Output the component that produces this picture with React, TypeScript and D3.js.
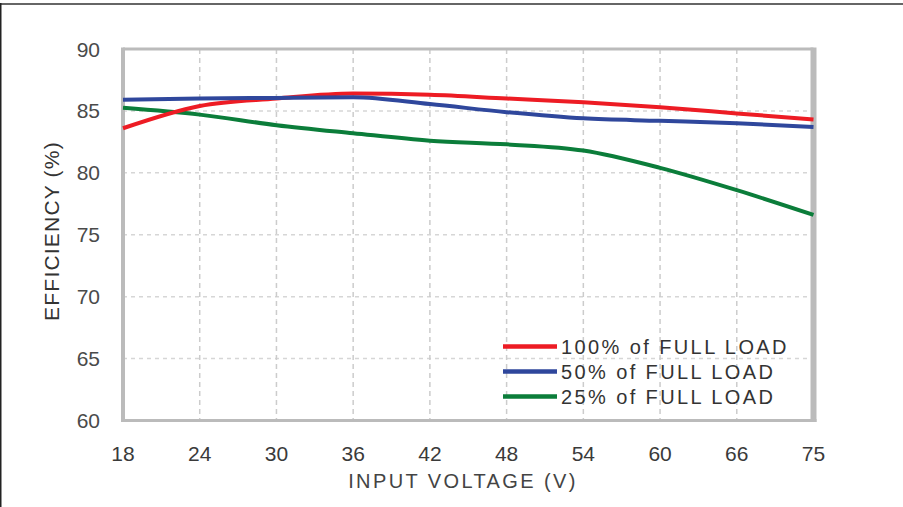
import React from 'react';
import * as d3 from 'd3';

const voltages = ['18', '24', '30', '36', '42', '48', '54', '60', '66', '75'];
const load100 = [83.6, 85.4, 86.0, 86.4, 86.3, 86.0, 85.7, 85.3, 84.8, 84.3];
const load50 = [85.9, 86.0, 86.05, 86.1, 85.55, 84.9, 84.4, 84.2, 84.0, 83.7];
const load25 = [85.25, 84.7, 83.85, 83.2, 82.6, 82.3, 81.8, 80.4, 78.6, 76.6];
const yTicks = [60, 65, 70, 75, 80, 85, 90];
const seriesNames = ['100% of FULL LOAD', '50% of FULL LOAD', '25% of FULL LOAD'];
const seriesColors = ['#ed1c24', '#2f479c', '#0b7d3a'];

const W = 903;
const H = 507;
const left = 123;
const right = 813.5;
const top = 49;
const bottom = 420.5;

const FONT = '"Liberation Sans", Arial, Helvetica, sans-serif';

export default function App() {
  const x = d3.scalePoint<string>().domain(voltages).range([left, right]);
  const y = d3.scaleLinear().domain([60, 90]).range([bottom, top]);
  const line = d3
    .line<number>()
    .x((_, i) => x(voltages[i]) as number)
    .y((d) => y(d))
    .curve(d3.curveMonotoneX);

  const series = [load100, load50, load25];
  const drawOrder = [2, 0, 1];

  return (
    <div style={{ position: 'fixed', left: 0, top: 0 }}>
      <svg width={W} height={H} style={{ display: 'block', background: '#fff' }}>
        {/* outer frame */}
        <line x1={0} x2={W} y1={4} y2={4} stroke="#666" strokeWidth={2} />
        <line x1={0.75} x2={0.75} y1={3} y2={H} stroke="#222" strokeWidth={1.5} />

        {/* horizontal grid */}
        {yTicks.slice(1, -1).map((t) => (
          <line
            key={'h' + t}
            x1={left}
            x2={right}
            y1={y(t)}
            y2={y(t)}
            stroke="#d6d6d6"
            strokeWidth={1.5}
            strokeDasharray="4,4"
          />
        ))}
        {/* vertical grid */}
        {voltages.slice(1, -1).map((v) => (
          <line
            key={'v' + v}
            x1={x(v)}
            x2={x(v)}
            y1={top}
            y2={bottom}
            stroke="#cccccc"
            strokeWidth={1.5}
            strokeDasharray="5,4"
          />
        ))}

        {/* plot border */}
        <line x1={left} x2={right} y1={top} y2={top} stroke="#bbbbbb" strokeWidth={3} />
        <line x1={left} x2={right + 3} y1={bottom} y2={bottom} stroke="#bbbbbb" strokeWidth={3} />
        <line x1={left} x2={left} y1={top - 1.5} y2={bottom + 1.5} stroke="#bbbbbb" strokeWidth={4} />
        <line x1={right} x2={right} y1={top - 1.5} y2={bottom + 1.5} stroke="#bbbbbb" strokeWidth={6} />

        {/* series */}
        {drawOrder.map((si) => (
          <path
            key={'s' + si}
            d={line(series[si]) || ''}
            fill="none"
            stroke={seriesColors[si]}
            strokeWidth={4}
            strokeLinejoin="round"
          />
        ))}

        {/* y tick labels */}
        {yTicks.map((t) => (
          <text
            key={'yl' + t}
            x={100}
            y={y(t)}
            textAnchor="end"
            dominantBaseline="central"
            fontFamily={FONT}
            fontSize={21}
            fill="#4a4a4a"
          >
            {t}
          </text>
        ))}
        {/* x tick labels */}
        {voltages.map((v) => (
          <text
            key={'xl' + v}
            x={x(v)}
            y={461}
            textAnchor="middle"
            fontFamily={FONT}
            fontSize={21}
            fill="#3a3a3a"
          >
            {v}
          </text>
        ))}

        {/* axis titles */}
        <text
          x={463}
          y={488}
          textAnchor="middle"
          fontFamily={FONT}
          fontSize={20}
          letterSpacing={2.4}
          fill="#444"
        >
          INPUT VOLTAGE (V)
        </text>
        <text
          transform="translate(59,231) rotate(-90)"
          textAnchor="middle"
          fontFamily={FONT}
          fontSize={21}
          letterSpacing={1.2}
          fill="#333"
        >
          EFFICIENCY (%)
        </text>

        {/* legend */}
        {seriesNames.map((n, i) => (
          <g key={'lg' + i}>
            <line
              x1={503}
              x2={557}
              y1={346.5 + i * 25}
              y2={346.5 + i * 25}
              stroke={seriesColors[i]}
              strokeWidth={4.5}
            />
            <text
              x={561}
              y={354 + i * 25}
              fontFamily={FONT}
              fontSize={20}
              letterSpacing={2.4}
              fill="#333"
            >
              {n}
            </text>
          </g>
        ))}
      </svg>
    </div>
  );
}
